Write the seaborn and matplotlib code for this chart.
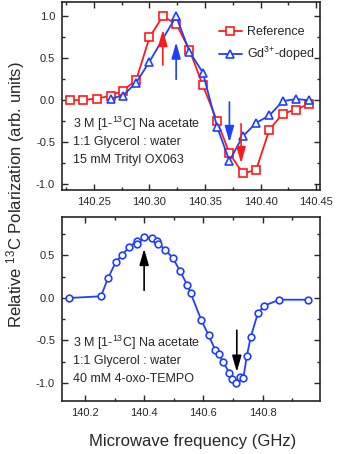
import numpy as np
import pandas as pd
import matplotlib
matplotlib.use("Agg")
import matplotlib.pyplot as plt
from matplotlib.ticker import MultipleLocator, FormatStrFormatter
import seaborn as sns

# --- top panel: trityl OX063, reference vs Gd-doped ---
ref_freq = [140.228, 140.240, 140.253, 140.265, 140.276, 140.288, 140.300, 140.312, 140.324, 140.336,
            140.348, 140.361, 140.372, 140.384, 140.396, 140.408, 140.420, 140.432, 140.444]
ref_pol = [0.00, 0.005, 0.02, 0.056, 0.115, 0.24, 0.75, 1.00, 0.91, 0.60,
           0.18, -0.25, -0.63, -0.87, -0.83, -0.35, -0.16, -0.11, -0.04]

gd_freq = [140.265, 140.276, 140.288, 140.300, 140.324, 140.336, 140.348, 140.361, 140.372, 140.384,
           140.396, 140.408, 140.420, 140.432, 140.444]
gd_pol = [0.02, 0.056, 0.21, 0.46, 1.00, 0.58, 0.33, -0.32, -0.72, -0.43,
          -0.27, -0.18, -0.01, 0.015, 0.0]

# --- bottom panel: 4-oxo-TEMPO ---
tempo_freq = [140.146, 140.254, 140.279, 140.304, 140.326, 140.350, 140.375, 140.377, 140.401, 140.426,
              140.445, 140.448, 140.471, 140.497, 140.521, 140.546, 140.557, 140.593, 140.618, 140.640,
              140.653, 140.666, 140.688, 140.698, 140.710, 140.724, 140.735, 140.747, 140.760, 140.784,
              140.806, 140.857, 140.953]
tempo_pol = [0.00, 0.02, 0.24, 0.42, 0.51, 0.60, 0.67, 0.64, 0.72, 0.70,
             0.67, 0.64, 0.57, 0.47, 0.32, 0.15, 0.06, -0.26, -0.44, -0.61,
             -0.66, -0.75, -0.88, -0.95, -1.00, -0.93, -0.94, -0.68, -0.46, -0.18,
             -0.09, -0.02, -0.02]

# arrows: (x, tail y, tip y)
top_arrows = [(140.312, 0.42, 0.84, "#ff1a1a"), (140.324, 0.25, 0.69, "#1f3fff"),
              (140.372, -0.02, -0.50, "#1f3fff"), (140.3825, -0.28, -0.75, "#ff1a1a")]
bot_arrows = [(140.400, 0.09, 0.58, "black"), (140.713, -0.38, -0.87, "black")]

top_notes = ["3 M [1-$^{13}$C] Na acetate", "1:1 Glycerol : water", "15 mM Trityl OX063"]
bot_notes = ["3 M [1-$^{13}$C] Na acetate", "1:1 Glycerol : water", "40 mM 4-oxo-TEMPO"]

RED = "#ff1a1a"
BLUE = "#1f3fff"

sns.set_theme(style="ticks")
plt.rcParams["font.family"] = ["Liberation Sans", "DejaVu Sans"]
plt.rcParams["mathtext.fontset"] = "custom"
plt.rcParams["mathtext.rm"] = "Liberation Sans"
plt.rcParams["mathtext.it"] = "Liberation Sans:italic"
plt.rcParams["axes.unicode_minus"] = False

fig = plt.figure(figsize=(3.37, 4.54), dpi=100)
ax1 = fig.add_axes([0.184, 0.5822, 0.7656, 0.4134])
ax2 = fig.add_axes([0.184, 0.1167, 0.7656, 0.4046])

df_ref = pd.DataFrame({"freq": ref_freq, "pol": ref_pol})
df_gd = pd.DataFrame({"freq": gd_freq, "pol": gd_pol})
df_tempo = pd.DataFrame({"freq": tempo_freq, "pol": tempo_pol})

sns.lineplot(data=df_ref, x="freq", y="pol", sort=False, estimator=None, ax=ax1, color=RED, lw=1.3,
             marker="s", markersize=5.5, markerfacecolor="white", markeredgecolor=RED, markeredgewidth=1.2,
             label="Reference")
sns.lineplot(data=df_gd, x="freq", y="pol", sort=False, estimator=None, ax=ax1, color=BLUE, lw=1.3,
             marker="^", markersize=6, markerfacecolor="white", markeredgecolor=BLUE, markeredgewidth=1.2,
             label="Gd$^{3{+}}$-doped")
sns.lineplot(data=df_tempo, x="freq", y="pol", sort=False, estimator=None, ax=ax2, color=BLUE, lw=1.3,
             marker="o", markersize=4.8, markerfacecolor="white", markeredgecolor=BLUE, markeredgewidth=1.2)

for ax, arrows in [(ax1, top_arrows), (ax2, bot_arrows)]:
    for x, y0, y1, c in arrows:
        ax.annotate("", xy=(x, y1), xytext=(x, y0),
                    arrowprops=dict(arrowstyle="-|>,head_length=0.7,head_width=0.2", color=c, lw=1.2,
                                    shrinkA=0, shrinkB=0, mutation_scale=14))

for i, t in enumerate(top_notes):
    ax1.text(0.042, 0.349 - i * 0.096, t, transform=ax1.transAxes, fontsize=9, va="center", ha="left")
for i, t in enumerate(bot_notes):
    ax2.text(0.042, 0.318 - i * 0.098, t, transform=ax2.transAxes, fontsize=9, va="center", ha="left")

ax1.set_xlim(140.2212, 140.4536)
ax1.set_ylim(-1.064, 1.17)
ax1.xaxis.set_major_locator(MultipleLocator(0.05))
ax1.xaxis.set_minor_locator(MultipleLocator(0.025))
ax1.xaxis.set_major_formatter(FormatStrFormatter("%.2f"))

ax2.set_xlim(140.1227, 140.994)
ax2.set_ylim(-1.212, 0.949)
ax2.xaxis.set_major_locator(MultipleLocator(0.2))
ax2.xaxis.set_minor_locator(MultipleLocator(0.1))
ax2.xaxis.set_major_formatter(FormatStrFormatter("%.1f"))

for ax in (ax1, ax2):
    ax.yaxis.set_major_locator(MultipleLocator(0.5))
    ax.yaxis.set_minor_locator(MultipleLocator(0.25))
    ax.yaxis.set_major_formatter(FormatStrFormatter("%.1f"))
    ax.tick_params(which="both", direction="in", top=True, right=True, labelsize=8, width=1.0, pad=5)
    ax.tick_params(which="major", length=4.5)
    ax.tick_params(which="minor", length=2.5)
    for s in ax.spines.values():
        s.set_linewidth(1.2)
    ax.set_xlabel("")
    ax.set_ylabel("")

ax1.legend(loc="upper right", bbox_to_anchor=(1.02, 0.93), frameon=False, fontsize=9,
           handlelength=1.85, handletextpad=0.4, labelspacing=0.55)

fig.text(0.573, 0.027, "Microwave frequency (GHz)", fontsize=12, ha="center", va="center")
fig.text(0.045, 0.572, "Relative $^{13}$C Polarization (arb. units)", fontsize=12,
         rotation=90, ha="center", va="center")

fig.savefig("out.png", dpi=100)
